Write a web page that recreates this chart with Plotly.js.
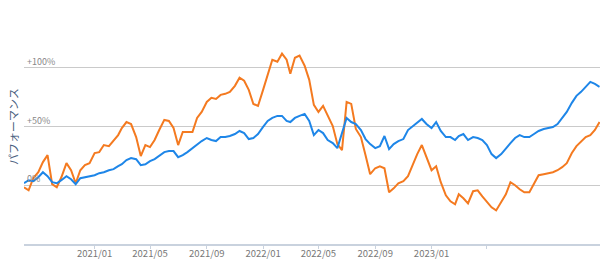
<!DOCTYPE html>
<html>
<head>
<meta charset="utf-8">
<script src="https://cdn.plot.ly/plotly-3.0.1.min.js"></script>
<style>html,body{margin:0;padding:0;background:#fff;}#chart{width:600px;height:260px;}</style>
</head>
<body>
<div id="chart"></div>
<script>
const dates = [
"2020-08-01","2020-08-11","2020-08-21","2020-09-01","2020-09-11","2020-09-21","2020-10-01","2020-10-11","2020-10-21",
"2020-11-01","2020-11-11","2020-11-21","2020-12-01","2020-12-11","2020-12-21",
"2021-01-01","2021-01-11","2021-01-21","2021-02-01","2021-02-11","2021-02-21","2021-03-01","2021-03-11","2021-03-21",
"2021-04-01","2021-04-11","2021-04-21","2021-05-01","2021-05-11","2021-05-21","2021-06-01","2021-06-11","2021-06-21",
"2021-07-01","2021-07-11","2021-07-21","2021-08-01","2021-08-11","2021-08-21","2021-09-01","2021-09-11","2021-09-21",
"2021-10-01","2021-10-11","2021-10-21","2021-11-01","2021-11-11","2021-11-21","2021-12-01","2021-12-11","2021-12-21",
"2022-01-01","2022-01-11","2022-01-21","2022-02-01","2022-02-11","2022-02-21","2022-03-01","2022-03-11","2022-03-21",
"2022-04-01","2022-04-11","2022-04-21","2022-05-01","2022-05-11","2022-05-21","2022-06-01","2022-06-11","2022-06-21",
"2022-07-01","2022-07-11","2022-07-21","2022-08-01","2022-08-11","2022-08-21","2022-09-01","2022-09-11","2022-09-21",
"2022-10-01","2022-10-11","2022-10-21","2022-11-01","2022-11-11","2022-11-21","2022-12-01","2022-12-11","2022-12-21",
"2023-01-01","2023-01-11","2023-01-21","2023-02-01","2023-02-11","2023-02-21","2023-03-01","2023-03-11","2023-03-21",
"2023-04-01","2023-04-11","2023-04-21","2023-05-01","2023-05-11","2023-05-21","2023-06-01","2023-06-11","2023-06-21",
"2023-07-01","2023-07-11","2023-07-21","2023-08-01","2023-08-11","2023-08-21","2023-09-01","2023-09-11","2023-09-21",
"2023-10-01","2023-10-11","2023-10-21","2023-11-01","2023-11-11","2023-11-21","2023-12-01","2023-12-11","2023-12-21","2023-12-31"
];

const seriesOrange = [
-1.7,-4.3,6.0,11.1,19.7,25.6,0.9,-1.7,6.8,
18.8,12.8,1.7,12.8,17.1,18.8,
27.4,28.2,34.2,33.3,37.6,42.7,48.7,53.8,52.1,
41.0,24.8,34.2,32.5,38.5,47.0,55.6,54.7,48.7,
34.2,45.3,45.3,45.3,57.3,62.4,70.9,74.4,73.5,
76.9,77.8,79.5,84.6,91.5,88.9,81.2,69.2,67.5,
81.2,94.0,106.8,105.1,112.0,106.8,94.9,108.5,110.3,
101.7,89.7,68.4,62.4,67.5,59.8,50.4,35.0,29.9,
70.9,69.2,47.9,41.0,25.6,9.4,14.5,16.2,14.5,
-6.0,-2.6,1.7,3.4,7.7,17.1,26.5,34.2,24.8,
12.8,16.2,2.6,-8.5,-13.7,-16.2,-7.7,-11.1,-15.4,
-5.1,-4.3,-9.4,-13.7,-18.8,-21.4,-13.7,-7.7,2.6,
0.0,-3.4,-6.0,-6.0,1.7,8.5,9.4,10.3,11.1,
12.8,15.4,18.8,27.4,33.3,36.8,41.0,42.7,47.0,53.8
];

const seriesBlue = [
1.7,4.3,3.4,6.8,11.1,7.7,2.6,1.7,4.3,
7.7,5.1,0.9,6.0,6.8,7.7,
8.5,10.3,11.1,12.8,13.7,16.2,17.9,21.4,23.1,
22.2,17.1,17.9,20.5,22.2,24.8,28.2,29.1,29.1,
23.9,25.6,28.2,31.6,34.2,37.6,40.2,38.5,37.6,
41.0,41.0,41.9,43.6,46.2,44.4,39.3,40.2,43.6,
49.6,54.7,57.3,59.0,59.0,54.7,53.8,57.3,59.0,
60.7,54.7,42.7,47.0,44.4,38.5,35.9,31.6,43.6,
57.3,53.8,52.1,47.0,39.3,35.0,31.6,33.3,41.9,
30.8,35.0,37.6,39.3,47.0,50.4,53.8,56.4,52.1,
48.7,53.8,46.2,41.0,41.0,38.5,41.9,43.6,38.5,
41.0,40.2,38.5,34.2,26.5,23.1,26.5,31.6,35.9,
40.2,42.7,41.0,41.0,43.6,46.2,47.9,48.7,49.6,
52.1,57.3,62.4,70.1,76.1,79.5,83.8,88.0,86.3,83.8
];

const yTickVals = [0, 50, 100, 150];
const yTickText = ["0%", "+50%", "+100%", ""];
const xTickVals = ["2020-09-01","2021-01-01","2021-05-01","2021-09-01","2022-01-01","2022-05-01","2022-09-01","2023-01-01","2023-05-01"];
const xTickText = ["","2021/01","2021/05","2021/09","2022/01","2022/05","2022/09","2023/01",""];
const yTitle = "パフォーマンス";

const traces = [
  {x: dates, y: seriesOrange, type: "scatter", mode: "lines", line: {color: "#f47a20", width: 2}, hoverinfo: "skip"},
  {x: dates, y: seriesBlue, type: "scatter", mode: "lines", line: {color: "#1e86e8", width: 2}, hoverinfo: "skip"}
];

const layout = {
  width: 600, height: 260,
  margin: {l: 24, r: 0, t: 9, b: 16, pad: 0},
  paper_bgcolor: "#fff", plot_bgcolor: "#fff",
  showlegend: false,
  font: {family: "Noto Sans CJK JP, Noto Sans, sans-serif", size: 10, color: "#777"},
  xaxis: {
    type: "date", range: ["2020-08-01", "2024-01-01"],
    tickvals: xTickVals, ticktext: xTickText,
    showgrid: false, zeroline: false,
    showline: true, linecolor: "#c9d2de", linewidth: 1.5,
    ticks: "outside", ticklen: 3, tickcolor: "#c9d2de", tickwidth: 1,
    ticklabelstandoff: -3,
    tickfont: {size: 9.5, color: "#777"}, fixedrange: true
  },
  yaxis: {
    range: [-50, 150],
    tickvals: yTickVals, ticktext: yTickText,
    showgrid: true, gridcolor: "#cacaca", gridwidth: 1,
    zeroline: false, showline: false, ticks: "",
    ticklabelposition: "inside", ticklabelshift: -6,
    tickfont: {size: 9, color: "#888"},
    title: {text: yTitle, font: {size: 11, color: "#4a6180"}, standoff: 6},
    automargin: false, fixedrange: true
  }
};

Plotly.newPlot("chart", traces, layout, {displayModeBar: false, staticPlot: true});
</script>
</body>
</html>
